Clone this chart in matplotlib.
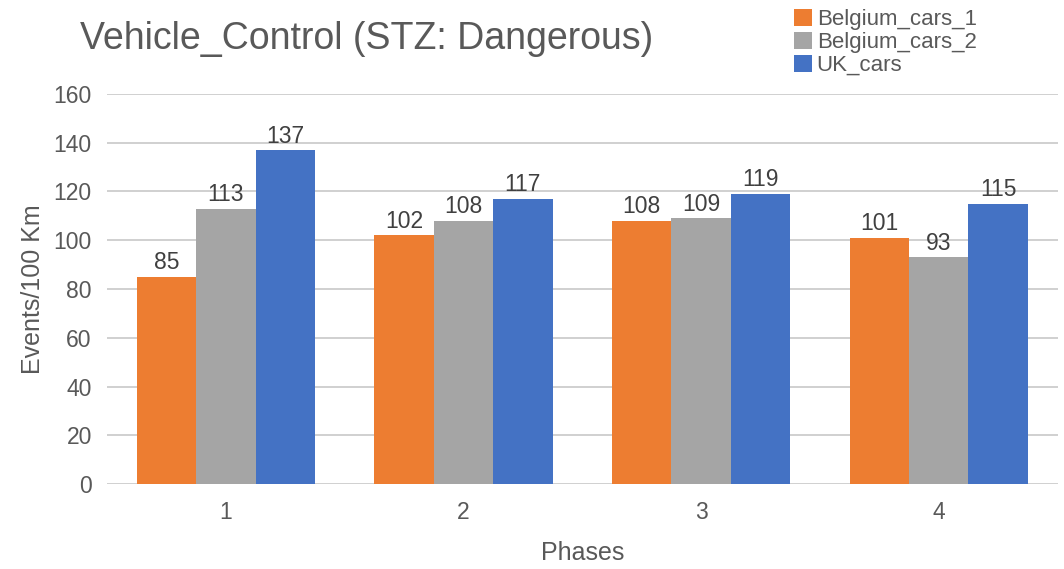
import numpy as np
import matplotlib.pyplot as plt

plt.rcParams['font.family'] = ['Liberation Sans', 'DejaVu Sans']

phases = ['1', '2', '3', '4']
belgium_1 = [85, 102, 108, 101]
belgium_2 = [113, 108, 109, 93]
uk_cars = [137, 117, 119, 115]
series_names = ['Belgium_cars_1', 'Belgium_cars_2', 'UK_cars']
colors = ['#ED7D31', '#A5A5A5', '#4472C4']

fig = plt.figure(figsize=(10.64, 5.69), dpi=100)
ax = fig.add_axes([0.1006, 0.149, 0.8934, 0.686])

x = np.arange(len(phases))
w = 0.25
handles = []
for i, (vals, name, c) in enumerate(zip([belgium_1, belgium_2, uk_cars], series_names, colors)):
    bars = ax.bar(x + (i - 1) * w, vals, w, color=c, label=name, zorder=3)
    handles.append(bars)
    for b, v in zip(bars, vals):
        ax.text(b.get_x() + b.get_width() / 2, v + 1.0, str(v), ha='center', va='bottom',
                fontsize=16.5, color='#404040')

ax.set_xlim(-0.5, 3.5)
ax.set_ylim(0, 160)
ax.set_yticks(range(0, 161, 20))
ax.set_xticks(x)
ax.set_xticklabels(phases)
ax.grid(axis='y', color='#c8c8c8', linewidth=1.2, zorder=0)
for s in ax.spines.values():
    s.set_visible(False)
ax.tick_params(axis='both', length=0, labelsize=16.5, colors='#595959')
ax.tick_params(axis='x', pad=12)
ax.tick_params(axis='y', pad=11)

ax.set_xlabel('Phases', fontsize=18, color='#595959', labelpad=12)
ax.set_ylabel('Events/100 Km', fontsize=18, color='#595959', labelpad=6)

fig.text(0.075, 0.932, 'Vehicle_Control (STZ: Dangerous)', fontsize=27, color='#595959',
         ha='left', va='center')

fig.legend(handles=handles, loc='upper left', bbox_to_anchor=(0.732, 1.012), frameon=False,
           fontsize=16, labelcolor='#595959', handlelength=0.8, handleheight=0.8,
           handletextpad=0.2, labelspacing=0.08, borderpad=0.2)

fig.savefig('out.png', dpi=100)
